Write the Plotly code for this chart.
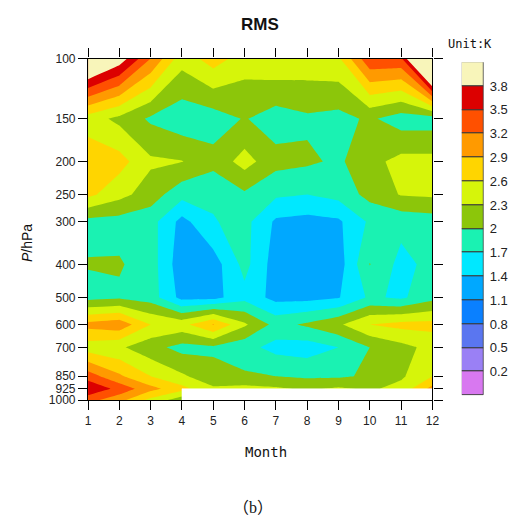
import plotly.graph_objects as go

nan = float("nan")

# Month axis and pressure levels (hPa)
months = [1, 2, 3, 4, 5, 6, 7, 8, 9, 10, 11, 12]
levels = [100, 150, 200, 250, 300, 400, 500, 600, 700, 850, 925, 1000]

# RMS (K) at each pressure level, January..December
rms_100 = [4.5, 4.0, 3.2, 2.42, 2.75, 2.45, 2.55, 2.5, 2.55, 3.45, 3.45, 5.5]
rms_150 = [2.45, 2.22, 1.95, 1.8, 1.85, 2.02, 1.85, 1.95, 1.9, 2.05, 1.85, 1.85]
rms_200 = [2.8, 2.72, 2.35, 2.31, 2.1, 2.42, 2.1, 2.05, 1.95, 2.2, 2.4, 2.4]
rms_250 = [2.68, 2.4, 2.15, 1.8, 1.75, 1.95, 1.75, 1.7, 1.8, 2.1, 2.32, 2.35]
rms_300 = [1.9, 1.88, 1.82, 1.3, 1.68, 1.8, 1.35, 1.3, 1.35, 1.75, 1.8, 1.85]
rms_400 = [2.02, 2.03, 1.85, 1.2, 1.25, 1.8, 1.25, 1.15, 1.25, 2.01, 1.6, 1.8]
rms_500 = [1.9, 1.95, 1.85, 1.3, 1.3, 1.6, 1.3, 1.3, 1.38, 1.75, 1.65, 1.9]
rms_600 = [3.0, 3.1, 2.6, 2.5, 2.92, 2.35, 1.9, 2.05, 2.25, 2.6, 2.7, 2.7]
rms_700 = [2.45, 2.35, 2.1, 1.9, 1.95, 1.8, 1.6, 1.55, 1.7, 2.0, 2.2, 2.4]
rms_850 = [3.35, 2.95, 2.6, 2.35, 2.1, 2.05, 2.0, 1.95, 1.95, 2.05, 2.25, 2.6]
rms_925 = [3.75, 3.4, 3.0, 2.7, 2.35, 2.4, 2.35, 2.25, 2.35, 2.25, 2.4, 3.0]
rms_1000 = [3.3, 3.0, 2.5, 2.1, nan, nan, nan, nan, nan, nan, nan, nan]

# Contour levels and fill colours (one more colour than levels)
contour_levels = [0.2, 0.5, 0.8, 1.1, 1.4, 1.7, 2.0, 2.3, 2.6, 2.9, 3.2, 3.5, 3.8]
fill_colors = ["#D878F0", "#9A80F5", "#5A76F0", "#0A80FF", "#00A8FF", "#00E8FF",
               "#1AF2B2", "#8CC60A", "#D6F50A", "#FFD500", "#FF9A00", "#FF5000",
               "#DC0000", "#F8F5BA"]

z = [rms_100, rms_150, rms_200, rms_250, rms_300, rms_400,
     rms_500, rms_600, rms_700, rms_850, rms_925, rms_1000]

W, H = 527, 528


def px(x):
    return x / W


def py(y):
    return 1 - y / H


def is_missing(v):
    return v != v


# Grid cells that touch a missing value are painted blank; consecutive
# blank cells in a row are merged into one rectangle.
blank_x, blank_y = [], []
for i in range(len(levels) - 1):
    j = 0
    while j < len(months) - 1:
        def cell_missing(jj):
            corners = [z[i][jj], z[i][jj + 1], z[i + 1][jj], z[i + 1][jj + 1]]
            return any(is_missing(c) for c in corners)
        if cell_missing(j):
            j0 = j
            while j + 1 < len(months) - 1 and cell_missing(j + 1):
                j += 1
            x0, x1 = months[j0], months[j + 1]
            y0, y1 = levels[i], levels[i + 1]
            blank_x += [x0, x1, x1, x0, x0, None]
            blank_y += [y0, y0, y1, y1, y0, None]
        j += 1

n = len(fill_colors)
colorscale = [[i / (n - 1), c] for i, c in enumerate(fill_colors)]
step = round(contour_levels[1] - contour_levels[0], 6)

fig = go.Figure()
fig.add_trace(go.Contour(
    x=months, y=levels, z=z,
    autocontour=False,
    contours=dict(start=contour_levels[0], end=contour_levels[-1], size=step,
                  coloring="fill", showlines=False),
    line=dict(width=0, smoothing=0),
    colorscale=colorscale,
    showscale=False,
    connectgaps=True,
    hoverinfo="skip",
))

if blank_x:
    fig.add_trace(go.Scatter(
        x=blank_x, y=blank_y, mode="lines", fill="toself",
        fillcolor="white", line=dict(color="white", width=0.5),
        hoverinfo="skip", showlegend=False,
    ))

# Label bar: one stacked box per colour band
fig.add_trace(go.Bar(
    x=[0] * n, y=[1] * n, base=list(range(n)), width=1,
    marker=dict(color=fill_colors, line=dict(color="#3a3a3a", width=1)),
    xaxis="x2", yaxis="y2", showlegend=False, hoverinfo="skip",
))

tick_font = dict(family="Liberation Sans, Arial, sans-serif", size=12, color="#222")
axis_common = dict(showline=True, linecolor="#000", linewidth=1.3, mirror="ticks",
                   ticks="outside", ticklen=9, tickwidth=1.3, tickcolor="#000",
                   showgrid=False, zeroline=False, tickfont=tick_font)

fig.update_layout(
    width=W, height=H,
    margin=dict(l=0, r=0, t=0, b=0),
    paper_bgcolor="white", plot_bgcolor="white",
    showlegend=False,
    xaxis=dict(domain=[px(86.7), px(437.7)], range=[1, 12],
               tickvals=months, ticktext=[str(m) for m in months],
               **axis_common),
    yaxis=dict(domain=[py(404), py(53)], type="log", range=[3, 2],
               autorange=False,
               tickvals=levels, ticktext=[str(p) for p in levels],
               **axis_common),
    xaxis2=dict(domain=[px(467.7), px(490)], range=[-0.5, 0.5], visible=False,
                anchor="y2"),
    yaxis2=dict(domain=[py(399), py(56.7)], range=[0, n], anchor="x2",
                side="right", showline=False, showgrid=False, zeroline=False,
                ticks="", tickvals=list(range(1, n)), ticklabelstandoff=5,
                ticktext=[f"{v:g}" for v in contour_levels],
                tickfont=dict(family="Liberation Sans, Arial, sans-serif",
                              size=13, color="#222")),
    bargap=0,
)

annotations = [
    dict(text="<b>RMS</b>", x=px(262), y=py(18),
         font=dict(family="Liberation Sans, Arial, sans-serif", size=17, color="#111")),
    dict(text="Unit:K", x=px(476), y=py(38),
         font=dict(family="DejaVu Sans Mono, monospace", size=12, color="#111")),
    dict(text="Month", x=px(268), y=py(457),
         font=dict(family="DejaVu Sans Mono, monospace", size=14, color="#111")),
    dict(text="<i>P</i>/hPa", x=px(24), y=py(243), textangle=-90,
         font=dict(family="Liberation Sans, Arial, sans-serif", size=14, color="#111")),
    dict(text="（b）", x=px(255), y=py(514),
         font=dict(family="Liberation Serif, Noto Sans CJK SC, serif", size=16, color="#111")),
]
for a in annotations:
    fig.add_annotation(xref="paper", yref="paper", showarrow=False,
                       xanchor="center", yanchor="middle", **a)

fig.write_html("out.html")
